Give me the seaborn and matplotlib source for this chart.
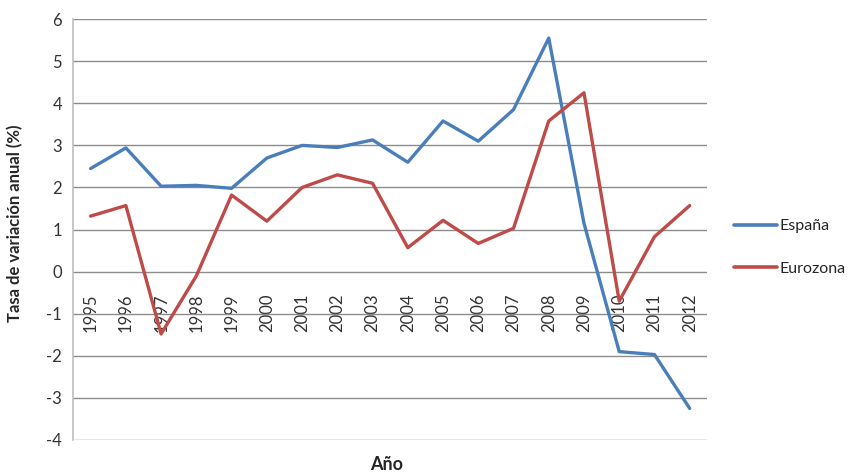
import pandas as pd
import matplotlib
matplotlib.use("Agg")
import matplotlib.pyplot as plt
import seaborn as sns

# Data
years = [str(y) for y in range(1995, 2013)]
espana = [2.45, 2.94, 2.03, 2.05, 1.98, 2.70, 3.00, 2.95, 3.13, 2.60,
          3.58, 3.10, 3.85, 5.55, 1.15, -1.90, -1.97, -3.25]
eurozona = [1.32, 1.57, -1.48, -0.10, 1.82, 1.20, 2.00, 2.30, 2.10, 0.57,
            1.22, 0.67, 1.03, 3.58, 4.25, -0.70, 0.83, 1.57]
series_names = ["España", "Eurozona"]
colors = ["#4A7EBB", "#BE4B48"]
y_ticks = list(range(-4, 7))


def main():
    sns.set_style("white")
    plt.rcParams['font.family'] = ['Lato', 'DejaVu Sans']

    df = pd.DataFrame({
        'idx': list(range(len(years))) * 2,
        'year': years * 2,
        'value': espana + eurozona,
        'serie': [series_names[0]] * len(years) + [series_names[1]] * len(years),
    })

    fig = plt.figure(figsize=(8.63, 4.75), dpi=100)
    ax = fig.add_axes([0.0846, 0.0737, 0.735, 0.886])

    sns.lineplot(data=df, x='idx', y='value', hue='serie', palette=colors,
                 linewidth=2.4, ax=ax, legend=False)

    # axes styling, Excel-like
    ax.set_xlim(-0.5, len(years) - 0.5)
    ax.set_ylim(-4, 6)
    ax.set_yticks(y_ticks)
    ax.set_yticklabels([str(t) for t in y_ticks], fontsize=12, color='#333333')
    ax.yaxis.grid(True, color='#8c8c8c', linewidth=1)
    ax.set_axisbelow(True)
    for side in ['top', 'right']:
        ax.spines[side].set_visible(False)
    ax.spines['left'].set_color('#bfbfbf')
    ax.spines['left'].set_linewidth(1.2)
    ax.spines['bottom'].set_position(('data', 0))
    ax.spines['bottom'].set_visible(False)
    ax.tick_params(axis='y', length=4, color='#bfbfbf', direction='out', pad=4)

    ax.set_xticks(range(len(years)))
    ax.set_xticklabels(years, rotation=90, fontsize=12, color='#333333')
    ax.tick_params(axis='x', length=0, pad=16)

    ax.set_xlabel('')
    ax.set_ylabel('')
    fig.text(0.448, 0.005, 'Año', ha='center', va='bottom',
             fontsize=13, fontweight='bold')
    fig.text(0.018, 0.53, 'Tasa de variación anual (%)', rotation=90,
             ha='center', va='center', fontsize=12, fontweight='bold')

    # legend on the right
    handles = [plt.Line2D([], [], color=c, linewidth=2.6) for c in colors]
    fig.legend(handles, series_names, loc='center left',
               bbox_to_anchor=(0.850, 0.479), frameon=False, fontsize=11.5,
               handlelength=2.7, handletextpad=0.15, labelspacing=1.75,
               borderpad=0, borderaxespad=0)

    fig.savefig("out.png", dpi=100)
    plt.close(fig)


if __name__ == "__main__":
    main()
